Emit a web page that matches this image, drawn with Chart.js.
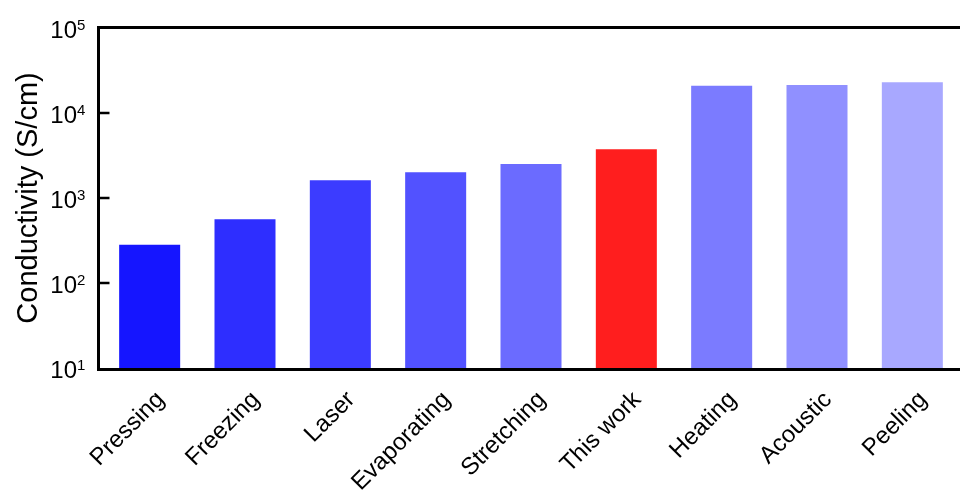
<!DOCTYPE html>
<html>
<head>
<meta charset="utf-8">
<script src="https://cdn.jsdelivr.net/npm/chart.js@4.4.0/dist/chart.umd.min.js"></script>
<style>
  html, body { margin: 0; padding: 0; background: #fff; }
  #wrap { width: 960px; height: 493px; }
</style>
</head>
<body>
<div id="wrap"><canvas id="c"></canvas></div>
<script>
// data
const categories = ['Pressing', 'Freezing', 'Laser', 'Evaporating', 'Stretching', 'This work', 'Heating', 'Acoustic', 'Peeling'];
const conductivity = [282, 561, 1615, 2004, 2512, 3740, 20950, 21350, 22950];
const barColors = ['#1515ff', '#2e2eff', '#3c3cff', '#5252ff', '#6b6bff', '#ff1e1e', '#7b7bff', '#9090ff', '#a8a8ff'];
const yTickValues = [10, 100, 1000, 10000, 100000];
const yTickExponents = ['1', '2', '3', '4', '5'];
const yTitle = 'Conductivity (S/cm)';

const FONT = '"Liberation Sans", Arial, sans-serif';

// frame, inside ticks, superscript tick labels and rotated category labels
const axesPlugin = {
    id: 'axesPlugin',
    afterDraw: (chart) => {
        const ctx = chart.ctx;
        const area = chart.chartArea;
        const x = chart.scales.x;
        const y = chart.scales.y;
        const left = area.left - 3.5;
        ctx.save();

        // frame (no right side)
        ctx.strokeStyle = '#000';
        ctx.lineWidth = 3;
        ctx.beginPath();
        ctx.moveTo(960, area.top - 0.5);
        ctx.lineTo(left, area.top - 0.5);
        ctx.lineTo(left, area.bottom + 1.5);
        ctx.lineTo(960, area.bottom + 1.5);
        ctx.stroke();

        // y ticks + labels
        ctx.fillStyle = '#000';
        yTickValues.forEach((v, i) => {
            const py = y.getPixelForValue(v);
            if (i > 0 && i < yTickValues.length - 1) {
                ctx.lineWidth = 2.5;
                ctx.beginPath();
                ctx.moveTo(left, py);
                ctx.lineTo(left + 11, py);
                ctx.stroke();
            }
            ctx.font = '24px ' + FONT;
            ctx.textAlign = 'right';
            ctx.textBaseline = 'alphabetic';
            ctx.fillText('10', 77, py + 10);
            ctx.font = '15px ' + FONT;
            ctx.textAlign = 'left';
            ctx.fillText(yTickExponents[i], 77, py + 2);
        });

        // y title
        ctx.save();
        ctx.translate(29, (area.top + area.bottom) / 2);
        ctx.rotate(-Math.PI / 2);
        ctx.font = '29px ' + FONT;
        ctx.textAlign = 'center';
        ctx.textBaseline = 'middle';
        ctx.fillText(yTitle, 0, 0);
        ctx.restore();

        // x labels at 45 degrees
        ctx.font = '24px ' + FONT;
        categories.forEach((c, i) => {
            const px = x.getPixelForValue(i);
            ctx.save();
            ctx.translate(px + 11, area.bottom + 28);
            ctx.rotate(-Math.PI / 4);
            ctx.textAlign = 'right';
            ctx.textBaseline = 'middle';
            ctx.fillText(c, 0, 0);
            ctx.restore();
        });
        ctx.restore();
    }
};

new Chart(document.getElementById('c'), {
    type: 'bar',
    data: {
        labels: categories,
        datasets: [{
            data: conductivity,
            backgroundColor: barColors,
            borderWidth: 0,
            categoryPercentage: 1,
            barPercentage: 0.64
        }]
    },
    options: {
        responsive: true,
        maintainAspectRatio: false,
        animation: false,
        layout: { padding: { left: 102, top: 28, right: 0, bottom: 125 } },
        plugins: { legend: { display: false }, tooltip: { enabled: false } },
        scales: {
            x: { display: false },
            y: { type: 'logarithmic', display: false, min: 10, max: 100000 }
        }
    },
    plugins: [axesPlugin]
});
</script>
</body>
</html>
